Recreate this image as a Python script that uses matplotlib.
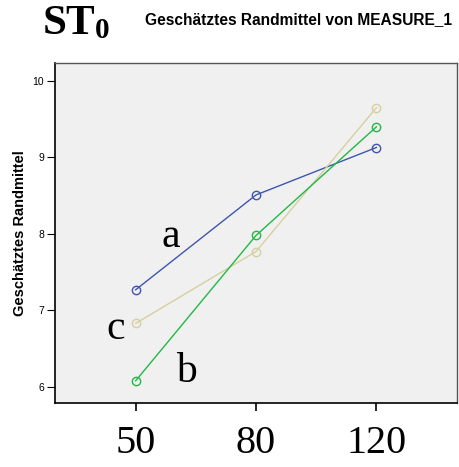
import matplotlib
matplotlib.use("Agg")
import matplotlib.pyplot as plt

# levels of the factor and estimated marginal means for three groups
levels = ["50", "80", "120"]
group_a = [7.27, 8.51, 9.13]
group_b = [6.08, 7.98, 9.40]
group_c = [6.83, 7.77, 9.65]
yticks = [6, 7, 8, 9, 10]

fig = plt.figure(figsize=(4.59, 4.67), dpi=100)
W, H = 459, 467
ax = fig.add_axes([55 / W, 1 - 403 / H, (457 - 55) / W, (403 - 63) / H])
ax.set_facecolor("#f0f0f0")

x = range(len(levels))
ax.plot(x, group_a, color="#3e55b0", lw=1, marker="o", ms=6, mfc="none", mew=1)
ax.plot(x, group_c, color="#d6d09e", lw=1, marker="o", ms=6, mfc="none", mew=1)
ax.plot(x, group_b, color="#22b845", lw=1, marker="o", ms=6, mfc="none", mew=1)

ax.set_xlim(-0.67, 2.67)
ax.set_ylim(5.79, 10.235)
ax.set_xticks(list(x))
ax.set_xticklabels(levels, family="Liberation Serif", fontsize=29)
ax.tick_params(axis="x", length=6, width=1.2, pad=10)
ax.set_yticks(yticks)
ax.set_yticklabels([str(v) for v in yticks], family="Liberation Sans", fontsize=7.5)
ax.tick_params(axis="y", length=6, width=0.8, pad=2)
for s in ["left", "bottom"]:
    ax.spines[s].set_color("black")
    ax.spines[s].set_linewidth(1.2)
for s in ["top", "right"]:
    ax.spines[s].set_color("#555555")
    ax.spines[s].set_linewidth(1.0)

ax.set_ylabel("Geschätztes Randmittel", family="Liberation Sans", fontsize=10.5,
              fontweight="bold", labelpad=4)

# group letters
serif = dict(family="Liberation Serif", fontsize=30, ha="center", va="center")
ax.text(0.29, 7.96, "a", **serif)
ax.text(-0.17, 6.76, "c", **serif)
ax.text(0.42, 6.2, "b", **serif)

fig.text(43 / W, 1 - 24 / H, "ST", family="Liberation Serif", fontsize=31,
         fontweight="bold", ha="left", va="center")
fig.text(95 / W, 1 - 31 / H, "0", family="Liberation Serif", fontsize=21,
         fontweight="bold", ha="left", va="center")
fig.text(145 / W, 1 - 20 / H, "Geschätztes Randmittel von MEASURE_1",
         family="Liberation Sans", fontsize=11.2, fontweight="bold",
         ha="left", va="center")

fig.savefig("out.png", dpi=100)
